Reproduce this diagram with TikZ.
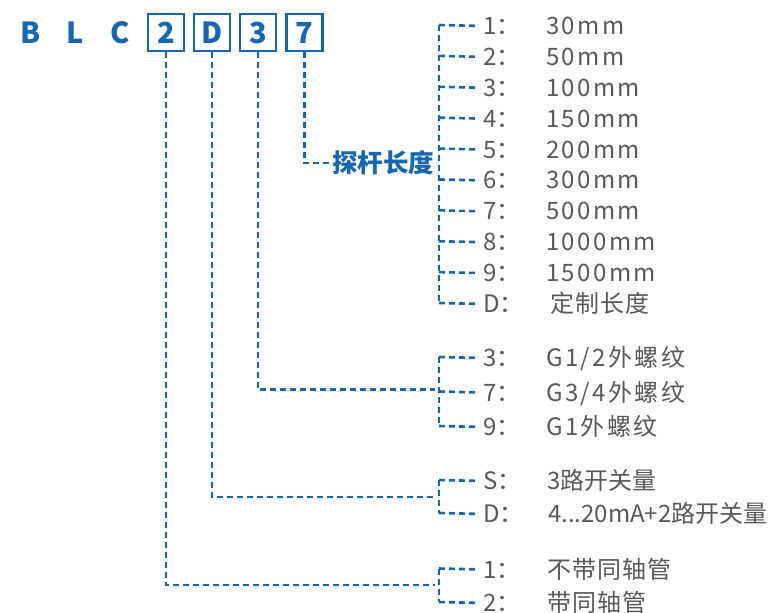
\documentclass[tikz,border=0pt]{standalone}
\usepackage{fontspec}
\setmainfont{Noto Sans CJK SC}
\definecolor{brand}{HTML}{1766B2}
\definecolor{txt}{HTML}{595959}
\begin{document}
\begin{tikzpicture}[x=1pt,y=-1pt,
  code/.style={font=\fontsize{29}{29}\selectfont\bfseries, text=brand, inner sep=0pt, anchor=base},
  cbox/.style={draw=brand, line width=2.4pt, minimum width=36pt, minimum height=36.5pt, inner sep=0pt,
               font=\fontsize{29}{29}\selectfont\bfseries, text=brand},
  lead/.style={draw=brand, line width=2.6pt, dash pattern=on 6pt off 4pt},
  branch/.style={lead, shorten >=6pt},
  lab/.style={font=\fontsize{24}{24}\selectfont, text=txt, inner sep=0pt, anchor=base west,
              text height=17pt, text depth=0pt},
  val/.style={font=\fontsize{24}{24}\selectfont\addfontfeature{LetterSpace=10}, text=txt, inner sep=0pt, anchor=base west},
  valc/.style={font=\fontsize{24}{24}\selectfont\addfontfeature{LetterSpace=5}, text=txt, inner sep=0pt, anchor=base west},
  valn/.style={font=\fontsize{24}{24}\selectfont, text=txt, inner sep=0pt, anchor=base west},
  tag/.style={font=\fontsize{25.5}{25.5}\selectfont\bfseries, text=brand, inner sep=0pt, anchor=west}
]
\useasboundingbox (0,0) rectangle (769,613);

% code letters
\node[code] (cB) at (30.5,43) {B};
\node[code] (cL) at (75.5,43) {L};
\node[code] (cC) at (120,43) {C};
\node[cbox] (b2) at (166,32.5) {2};
\node[cbox] (bD) at (212,32.5) {D};
\node[cbox] (b3) at (258,32.5) {3};
\node[cbox] (b7) at (304.5,32.5) {7};

% probe length
\node[tag] (tg) at (332,163) {探杆长度};
\coordinate (k7) at (304.5,163);
\draw[lead] (b7.south) -- (k7) -- (tg.west);

\coordinate (aTop) at (439,25);
\coordinate (aBot) at (439,303);
\draw[lead] (aTop) -- (aBot);
\foreach \i/\k/\v [count=\n from 0] in {1/1/30mm,2/2/50mm,3/3/100mm,4/4/150mm,5/5/200mm,6/6/300mm,7/7/500mm,8/8/1000mm,9/9/1500mm}{
  \pgfmathsetmacro\yy{25+30.89*\n}
  \coordinate (a\i) at (439,\yy);
  \node[lab] (la\i) at (483,\yy+9.5) {\k：};
  \node[val] (va\i) at (546,\yy+9.5) {\v};
  \draw[branch] (a\i) -- (la\i.west);
}
\coordinate (aD) at (439,303);
\node[lab] (laD) at (483,312.5) {D：};
\node[valc] (vaD) at (550,312.5) {定制长度};
\draw[branch] (aD) -- (laD.west);

% thread
\coordinate (k3) at (258,389.5);
\coordinate (e3) at (435,389.5);
\draw[lead] (b3.south) -- (k3) -- (e3);
\coordinate (bTop) at (439,357);
\coordinate (bBot) at (439,426);
\draw[lead] (bTop) -- (bBot);
\foreach \i/\k/\v/\y in {1/3/{G1/2外螺纹}/357,2/7/{G3/4外螺纹}/391.5,3/9/{G1外螺纹}/426}{
  \coordinate (bb\i) at (439,\y);
  \node[lab] (lb\i) at (483,\y+9.5) {\k：};
  \node[val] (vb\i) at (546,\y+9.5) {\v};
  \draw[branch] (bb\i) -- (lb\i.west);
}

% output
\coordinate (kD) at (212,497);
\coordinate (eD) at (435,497);
\draw[lead] (bD.south) -- (kD) -- (eD);
\coordinate (cTop) at (439,480);
\coordinate (cBot) at (439,513);
\draw[lead] (cTop) -- (cBot);
\coordinate (cc1) at (439,480);
\coordinate (cc2) at (439,513);
\node[lab] (lc1) at (483,489.5) {S：};
\node[valn] (vc1) at (547,489.5) {3路开关量};
\node[lab] (lc2) at (483,522.5) {D：};
\node[valn] (vc2) at (548,522.5) {4...20mA+2路开关量};
\draw[branch] (cc1) -- (lc1.west);
\draw[branch] (cc2) -- (lc2.west);

% coaxial tube
\coordinate (k2) at (166,585);
\coordinate (e2) at (435,585);
\draw[lead] (b2.south) -- (k2) -- (e2);
\coordinate (dTop) at (439,568.5);
\coordinate (dBot) at (439,602);
\draw[lead] (dTop) -- (dBot);
\coordinate (dd1) at (439,568.5);
\coordinate (dd2) at (439,602);
\node[lab] (ld1) at (483,578) {1：};
\node[valc] (vd1) at (547,578) {不带同轴管};
\node[lab] (ld2) at (483,611.5) {2：};
\node[valc] (vd2) at (547,611.5) {带同轴管};
\draw[branch] (dd1) -- (ld1.west);
\draw[branch] (dd2) -- (ld2.west);
\end{tikzpicture}
\end{document}
